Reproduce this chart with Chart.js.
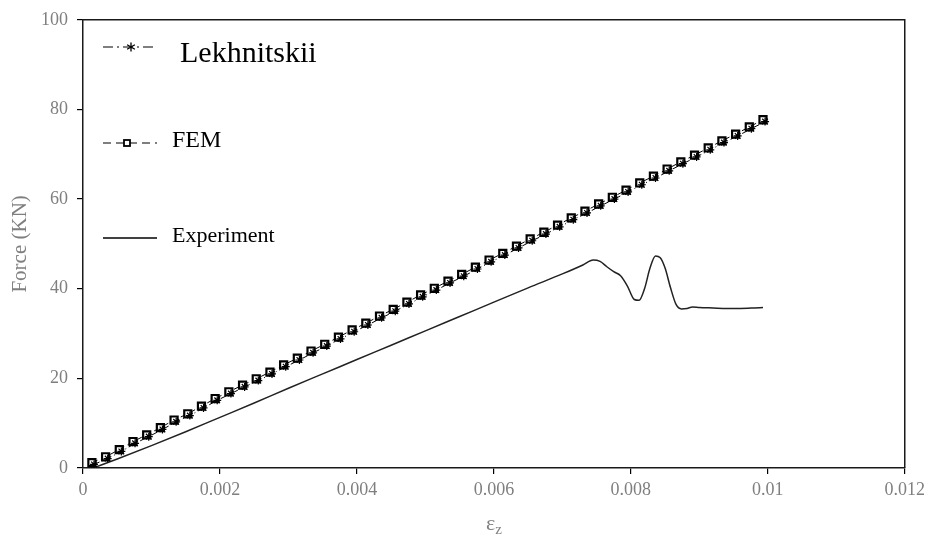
<!DOCTYPE html>
<html>
<head>
<meta charset="utf-8">
<script src="https://cdn.jsdelivr.net/npm/chart.js@4/dist/chart.umd.min.js"></script>
<style>
  html, body { margin: 0; padding: 0; background: #fff; }
  canvas { display: block; }
</style>
</head>
<body>
<canvas id="chart" width="930" height="536"></canvas>
<script>
// Strain positions of the FEM points
const femStrain = [
  0.00013, 0.00033, 0.00053, 0.00073, 0.00093, 0.00113, 0.00133, 0.00153, 0.00173, 0.00193,
  0.00213, 0.00233, 0.00253, 0.00273, 0.00293, 0.00313, 0.00333, 0.00353, 0.00373, 0.00393,
  0.00413, 0.00433, 0.00453, 0.00473, 0.00493, 0.00513, 0.00533, 0.00553, 0.00573, 0.00593,
  0.00613, 0.00633, 0.00653, 0.00673, 0.00693, 0.00713, 0.00733, 0.00753, 0.00773, 0.00793,
  0.00813, 0.00833, 0.00853, 0.00873, 0.00893, 0.00913, 0.00933, 0.00953, 0.00973, 0.00993
];

// Force (KN) – FEM
const femForce = [
  1.2, 2.5, 4.1, 5.9, 7.4, 9.0, 10.7, 12.1, 13.8, 15.5,
  17.0, 18.5, 19.9, 21.4, 23.0, 24.5, 26.1, 27.6, 29.2, 30.8,
  32.3, 33.9, 35.4, 37.0, 38.6, 40.1, 41.7, 43.2, 44.8, 46.4,
  47.9, 49.5, 51.1, 52.6, 54.2, 55.8, 57.3, 58.9, 60.4, 62.0,
  63.6, 65.1, 66.7, 68.3, 69.8, 71.4, 73.0, 74.5, 76.1, 77.7
];

// Strain positions of the Lekhnitskii points
const lekhStrain = [
  0.00016, 0.00036, 0.00056, 0.00076, 0.00096, 0.00116, 0.00136, 0.00156, 0.00176, 0.00196,
  0.00216, 0.00236, 0.00256, 0.00276, 0.00296, 0.00316, 0.00336, 0.00356, 0.00376, 0.00396,
  0.00416, 0.00436, 0.00456, 0.00476, 0.00496, 0.00516, 0.00536, 0.00556, 0.00576, 0.00596,
  0.00616, 0.00636, 0.00656, 0.00676, 0.00696, 0.00716, 0.00736, 0.00756, 0.00776, 0.00796,
  0.00816, 0.00836, 0.00856, 0.00876, 0.00896, 0.00916, 0.00936, 0.00956, 0.00976, 0.00996
];

// Force (KN) – Lekhnitskii solution
const lekhForce = [
  0.8, 2.1, 3.7, 5.5, 7.0, 8.6, 10.3, 11.7, 13.4, 15.1,
  16.6, 18.1, 19.5, 21.0, 22.6, 24.1, 25.7, 27.2, 28.8, 30.4,
  31.9, 33.5, 35.0, 36.6, 38.2, 39.7, 41.3, 42.8, 44.4, 46.0,
  47.5, 49.1, 50.7, 52.2, 53.8, 55.4, 56.9, 58.5, 60.0, 61.6,
  63.2, 64.7, 66.3, 67.9, 69.4, 71.0, 72.6, 74.1, 75.7, 77.3
];

// Measured curve
const expStrain = [
  0.00015, 0.0005, 0.001, 0.0015, 0.002, 0.0025, 0.003, 0.0035, 0.004, 0.0045,
  0.005, 0.0055, 0.006, 0.0065, 0.007, 0.0073, 0.00745, 0.00755, 0.00765, 0.00775,
  0.00785, 0.00795, 0.00805, 0.00812, 0.0082, 0.00828, 0.00836, 0.00843, 0.0085, 0.00858,
  0.00866, 0.00874, 0.00882, 0.0089, 0.009, 0.0092, 0.0094, 0.0096, 0.0098, 0.00993
];
const expForce = [
  0.0, 2.0, 5.0, 8.1, 11.3, 14.5, 17.8, 21.0, 24.2, 27.4,
  30.6, 33.8, 37.0, 40.2, 43.3, 45.3, 46.4, 46.1, 44.9, 43.8,
  42.9, 40.6, 37.6, 37.4, 40.0, 44.6, 47.3, 46.9, 44.6, 40.2,
  36.5, 35.5, 35.6, 35.9, 35.8, 35.7, 35.6, 35.6, 35.7, 35.8
];

const seriesNames = ['Lekhnitskii', 'FEM', 'Experiment'];
const xTickValues = [0, 0.002, 0.004, 0.006, 0.008, 0.01, 0.012];
const xTickLabels = ['0', '0.002', '0.004', '0.006', '0.008', '0.01', '0.012'];
const yTickValues = [0, 20, 40, 60, 80, 100];
const yTickLabels = ['0', '20', '40', '60', '80', '100'];
const yTitle = 'Force (KN)';
const xTitleMain = 'ε';
const xTitleSub = 'z';

const toPoints = (xs, ys) => xs.map((x, i) => ({ x: x, y: ys[i] }));

const SERIF = "'Liberation Serif', 'Times New Roman', serif";
const GREY = '#7f7f7f';

// Frame, subscripted x title and the inline legend
const decorations = {
  id: 'decorations',
  afterDraw(chart) {
    const { ctx, chartArea: a } = chart;
    ctx.save();
    // box around the plotting area
    ctx.strokeStyle = '#1a1a1a';
    ctx.lineWidth = 1.5;
    ctx.setLineDash([]);
    ctx.beginPath();
    ctx.moveTo(a.left, a.top);
    ctx.lineTo(a.right, a.top);
    ctx.lineTo(a.right, a.bottom);
    ctx.stroke();

    // x axis title: epsilon with subscript z
    ctx.fillStyle = GREY;
    ctx.textBaseline = 'alphabetic';
    ctx.font = '22px ' + SERIF;
    const wMain = ctx.measureText(xTitleMain).width;
    ctx.font = '15px ' + SERIF;
    const wSub = ctx.measureText(xTitleSub).width;
    const cx = (a.left + a.right) / 2;
    const startX = cx - (wMain + wSub) / 2;
    ctx.font = '22px ' + SERIF;
    ctx.fillText(xTitleMain, startX, 530);
    ctx.font = '15px ' + SERIF;
    ctx.fillText(xTitleSub, startX + wMain, 534);

    // legend
    const x0 = 103, x1 = 157;
    ctx.strokeStyle = '#000';
    ctx.lineWidth = 1.2;

    // Lekhnitskii: dash-dot with asterisk
    let y = 47;
    ctx.setLineDash([10, 4, 2, 4]);
    ctx.beginPath(); ctx.moveTo(x0, y); ctx.lineTo(x1, y); ctx.stroke();
    ctx.setLineDash([]);
    drawStar(ctx, 131, y, 4.5);
    ctx.fillStyle = '#000';
    ctx.font = '30px ' + SERIF;
    ctx.fillText(seriesNames[0], 180, 62);

    // FEM: dashed with open square
    y = 143;
    ctx.setLineDash([8, 5]);
    ctx.beginPath(); ctx.moveTo(x0, y); ctx.lineTo(x1, y); ctx.stroke();
    ctx.setLineDash([]);
    ctx.fillStyle = '#fff';
    ctx.lineWidth = 1.8;
    ctx.fillRect(124, y - 3, 6, 6);
    ctx.strokeRect(124, y - 3, 6, 6);
    ctx.fillStyle = '#000';
    ctx.font = '24px ' + SERIF;
    ctx.fillText(seriesNames[1], 172, 147);

    // Experiment: solid
    y = 238;
    ctx.lineWidth = 1.4;
    ctx.beginPath(); ctx.moveTo(x0, y); ctx.lineTo(x1, y); ctx.stroke();
    ctx.font = '22px ' + SERIF;
    ctx.fillText(seriesNames[2], 172, 242);
    ctx.restore();
  }
};

function drawStar(ctx, x, y, r) {
  ctx.save();
  ctx.lineWidth = 1.3;
  ctx.strokeStyle = '#000';
  ctx.beginPath();
  for (let k = 0; k < 3; k++) {
    const ang = Math.PI / 2 + k * Math.PI / 3;
    ctx.moveTo(x + r * Math.cos(ang), y + r * Math.sin(ang));
    ctx.lineTo(x - r * Math.cos(ang), y - r * Math.sin(ang));
  }
  ctx.stroke();
  ctx.restore();
}

new Chart(document.getElementById('chart'), {
  type: 'line',
  data: {
    datasets: [
      {
        label: seriesNames[0],
        data: toPoints(lekhStrain, lekhForce),
        order: 0,
        borderColor: '#000',
        borderWidth: 1,
        borderDash: [6, 3, 1, 3],
        pointStyle: 'star',
        pointRadius: 4,
        pointBorderWidth: 1.2,
        pointBorderColor: '#000',
        pointBackgroundColor: '#000',
        fill: false
      },
      {
        label: seriesNames[1],
        data: toPoints(femStrain, femForce),
        order: 1,
        borderColor: '#000',
        borderWidth: 1,
        borderDash: [6, 4],
        pointStyle: 'rect',
        pointRadius: 5,
        pointBorderWidth: 2.2,
        pointBorderColor: '#000',
        pointBackgroundColor: '#fff',
        fill: false
      },
      {
        label: seriesNames[2],
        data: toPoints(expStrain, expForce),
        order: 2,
        borderColor: '#222',
        borderWidth: 1.5,
        pointRadius: 0,
        cubicInterpolationMode: 'monotone',
        fill: false
      }
    ]
  },
  options: {
    responsive: false,
    animation: false,
    devicePixelRatio: 1,
    layout: { padding: { top: 17, right: 25, left: 0, bottom: 0 } },
    plugins: {
      legend: { display: false },
      tooltip: { enabled: false }
    },
    scales: {
      x: {
        type: 'linear',
        min: 0,
        max: 0.012,
        afterBuildTicks: (s) => { s.ticks = xTickValues.map(v => ({ value: v })); },
        afterFit: (s) => { s.height = 68; },
        ticks: {
          color: GREY,
          font: { family: SERIF, size: 18 },
          padding: 5,
          maxRotation: 0,
          autoSkip: false,
          callback: (v, i) => xTickLabels[i]
        },
        grid: {
          display: true,
          drawOnChartArea: false,
          drawTicks: true,
          tickLength: 6,
          color: '#000',
          lineWidth: 1.2
        },
        border: { display: true, color: '#1a1a1a', width: 1.5 },
        title: { display: false }
      },
      y: {
        type: 'linear',
        min: 0,
        max: 100,
        afterBuildTicks: (s) => { s.ticks = yTickValues.map(v => ({ value: v })); },
        afterFit: (s) => { s.width = 83; },
        ticks: {
          color: GREY,
          font: { family: SERIF, size: 18 },
          padding: 9,
          autoSkip: false,
          callback: (v, i) => yTickLabels[i]
        },
        grid: {
          display: true,
          drawOnChartArea: false,
          drawTicks: true,
          tickLength: 6,
          color: '#000',
          lineWidth: 1.2
        },
        border: { display: true, color: '#1a1a1a', width: 1.5 },
        title: {
          display: true,
          text: yTitle,
          color: GREY,
          font: { family: SERIF, size: 21 },
          padding: { top: 8, bottom: 0 }
        }
      }
    }
  },
  plugins: [decorations]
});
</script>
</body>
</html>
